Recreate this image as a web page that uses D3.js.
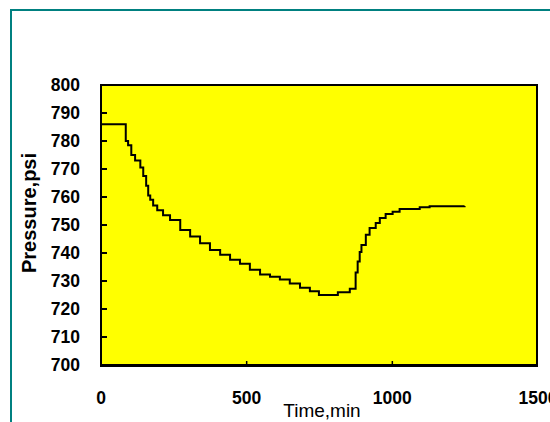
<!DOCTYPE html>
<html>
<head>
<meta charset="utf-8">
<script src="https://cdn.jsdelivr.net/npm/d3@7"></script>
<style>
  body { margin: 0; background: #fff; }
  svg { display: block; font-family: "Liberation Sans", Arial, sans-serif; }
</style>
</head>
<body>
<script>
// pressure record
var timeMin = [0, 85, 85, 93, 104, 117, 135, 145, 155, 162, 169, 179, 193, 213, 237, 272, 306, 340, 374, 409,
               443, 477, 511, 546, 580, 614, 648, 683, 717, 748, 813, 854, 874, 881, 888, 894, 909, 922, 943,
               957, 977, 1001, 1025, 1094, 1128, 1248];
var pressurePsi = [786, 786, 780, 778.5, 775, 773, 770.5, 767.5, 764, 760.5, 759, 757, 755.3, 753.5, 751.8, 748.2, 745.9, 743.5, 741.1, 739.4,
                   737.6, 736.2, 734, 732.3, 731.5, 730.5, 729.1, 727.6, 726.3, 725, 726, 727.2, 733, 737, 740.4, 742.9, 746.5, 748.9, 750.7,
                   752.5, 753.9, 754.7, 755.7, 756.3, 756.7, 756.8];
var xTicks = [0, 500, 1000, 1500];
var yTicks = [700, 710, 720, 730, 740, 750, 760, 770, 780, 790, 800];

var width = 550, height = 422;

var svg = d3.select("body").append("svg")
    .attr("width", width)
    .attr("height", height);

//outer teal frame
svg.append("rect")
    .attr("x", 11).attr("y", 10)
    .attr("width", 700).attr("height", 600)
    .attr("fill", "none")
    .attr("stroke", "#008080")
    .attr("stroke-width", 2);

var x = d3.scaleLinear().domain([0, 1500]).range([101, 538]);
var y = d3.scaleLinear().domain([700, 800]).range([365, 85]);

//plot area
svg.append("rect")
    .attr("x", 101).attr("y", 85)
    .attr("width", 537 - 101).attr("height", 365 - 85)
    .attr("fill", "#ffff00")
    .attr("stroke", "#000")
    .attr("stroke-width", 2);

//inside ticks
svg.selectAll(".ytick")
    .data(yTicks.slice(1, -1))
    .enter().append("line")
    .attr("x1", 101).attr("x2", 107)
    .attr("y1", function(d){ return y(d); })
    .attr("y2", function(d){ return y(d); })
    .attr("stroke", "#000").attr("stroke-width", 2);

svg.selectAll(".xtick")
    .data(xTicks.slice(1, -1))
    .enter().append("line")
    .attr("x1", function(d){ return x(d); })
    .attr("x2", function(d){ return x(d); })
    .attr("y1", 365).attr("y2", 361)
    .attr("stroke", "#000").attr("stroke-width", 1.5);

//thicker bottom axis
svg.append("line")
    .attr("x1", 100).attr("x2", 538)
    .attr("y1", 365.5).attr("y2", 365.5)
    .attr("stroke", "#000").attr("stroke-width", 3);

//tick labels
svg.selectAll(".ylab")
    .data(yTicks)
    .enter().append("text")
    .attr("x", 80)
    .attr("y", function(d){ return y(d); })
    .attr("dy", "0.36em")
    .attr("text-anchor", "end")
    .attr("font-size", "17.5px")
    .attr("font-weight", "bold")
    .text(function(d){ return d; });

svg.selectAll(".xlab")
    .data(xTicks)
    .enter().append("text")
    .attr("x", function(d){ return x(d); })
    .attr("y", 404)
    .attr("text-anchor", "middle")
    .attr("font-size", "17.5px")
    .attr("font-weight", "bold")
    .text(function(d){ return d; });

//axis titles
svg.append("text")
    .attr("x", 322).attr("y", 417)
    .attr("text-anchor", "middle")
    .attr("font-size", "19px")
    .text("Time,min");

svg.append("text")
    .attr("transform", "translate(36,213) rotate(-90)")
    .attr("text-anchor", "middle")
    .attr("font-size", "20px")
    .attr("font-weight", "bold")
    .text("Pressure,psi");

//pressure line
var line = d3.line()
    .x(function(d){ return x(d[0]); })
    .y(function(d){ return y(d[1]); })
    .curve(d3.curveStepAfter);

svg.append("path")
    .datum(d3.zip(timeMin, pressurePsi))
    .attr("d", line)
    .attr("fill", "none")
    .attr("stroke", "#000")
    .attr("stroke-width", 2);
</script>
</body>
</html>
